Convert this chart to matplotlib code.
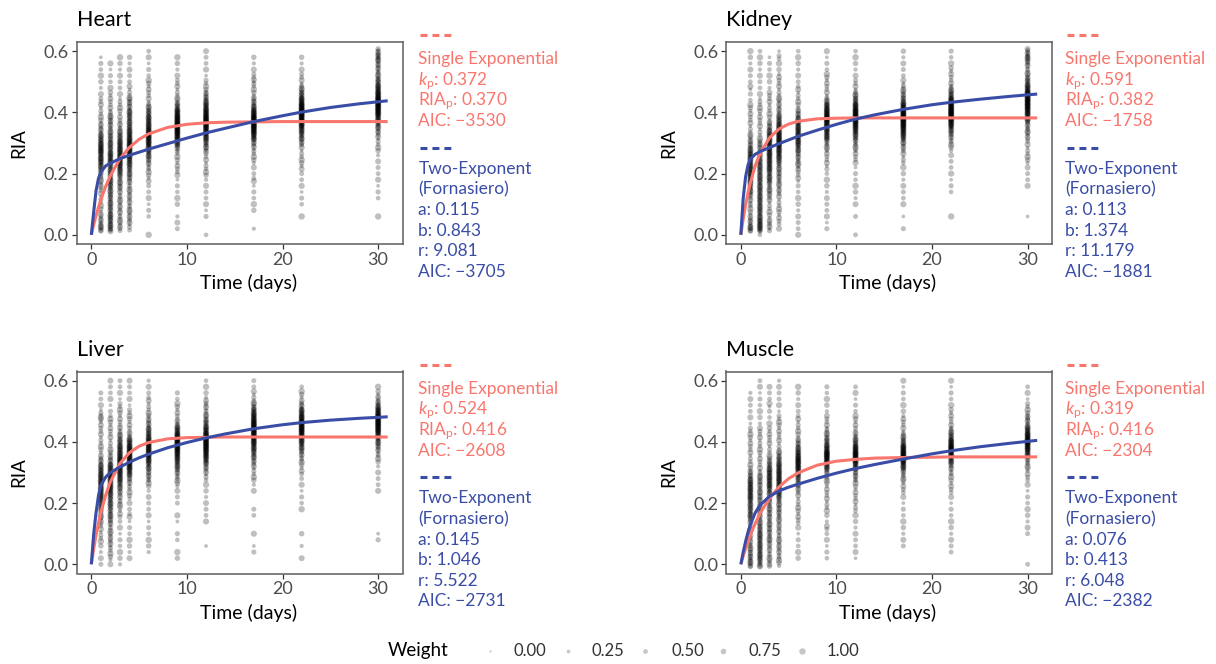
import matplotlib
matplotlib.use('Agg')
import matplotlib.pyplot as plt
from matplotlib.lines import Line2D

plt.rcParams['font.family'] = ['Lato', 'DejaVu Sans']
plt.rcParams['mathtext.fontset'] = 'custom'
plt.rcParams['mathtext.rm'] = 'Lato'
plt.rcParams['mathtext.it'] = 'Lato:italic'
plt.rcParams['mathtext.bf'] = 'Lato:bold'
plt.rcParams['lines.scale_dashes'] = False

# ---------------- data ----------------
PANEL_NAMES = ['Heart', 'Kidney', 'Liver', 'Muscle']
TIMES = [1, 2, 3, 4, 6, 9, 12, 17, 22, 30]
BIN_WIDTH = 0.02   # RIA bins 0.00, 0.02, ..., 0.60 (counts of observations per bin)

HEART_COUNTS = [
    [0,5,4,3,2,2,2,2,3,3, 4,6,8,8,10,8,6,4,3,2, 2,2,2,1,1,1,1,1,1,1, 0],
    [0,6,6,6,5,5,5,5,6,6, 6,6,8,8,6,6,5,4,4,4, 3,2,2,2,1,1,1,1,1,0, 0],
    [0,3,3,3,3,3,3,3,4,4, 6,8,9,9,9,8,6,4,3,2, 2,2,2,1,1,1,1,1,1,1, 0],
    [0,2,3,3,3,3,3,3,3,4, 5,6,8,9,11,11,9,8,6,6, 6,4,4,2,2,1,1,1,1,1, 0],
    [1,0,0,1,1,1,1,1,1,2, 2,3,4,6,8,11,12,11,9,8, 6,4,2,2,2,2,1,1,1,1, 1],
    [0,1,1,1,0,1,1,1,1,1, 2,2,2,2,4,8,12,15,16,14, 11,6,3,2,2,2,1,1,1,1, 0],
    [1,0,0,1,1,1,1,1,1,1, 2,2,2,2,4,6,9,12,15,15, 12,9,6,4,2,2,1,1,1,1, 1],
    [0,1,0,0,1,1,1,1,1,2, 1,1,2,2,3,4,9,14,18,16, 12,6,4,2,2,3,2,1,1,1, 0],
    [0,0,0,1,0,1,1,1,1,1, 1,2,2,2,2,4,6,8,12,15, 18,15,10,6,4,2,2,1,1,1, 0],
    [0,0,0,1,0,0,1,1,1,1, 1,1,1,1,2,2,3,4,6,9, 14,16,16,12,9,6,4,4,4,6, 4],
]
KIDNEY_COUNTS = [
    [0,6,4,3,2,3,3,5,6,8, 8,8,8,8,6,4,3,2,2,2, 2,2,1,1,2,1,1,1,1,1, 1],
    [1,8,8,6,6,6,6,6,6,6, 6,6,6,4,4,4,2,2,2,2, 2,2,2,1,1,1,1,1,1,1, 1],
    [0,3,3,2,2,2,3,4,4,6, 6,8,8,9,9,9,8,6,4,2, 2,2,2,2,1,1,1,1,1,1, 0],
    [0,1,2,2,2,2,2,3,3,4, 4,4,6,8,9,11,11,9,8,6, 4,3,3,2,2,2,2,1,1,2, 1],
    [1,1,1,1,1,1,1,1,1,2, 2,3,4,4,6,8,9,9,8,6, 4,2,2,2,2,1,1,1,1,1, 1],
    [0,1,1,1,1,1,1,1,1,1, 1,2,2,2,3,4,8,9,12,14, 12,9,4,2,2,2,2,1,1,1, 1],
    [1,0,0,1,0,1,1,1,1,1, 1,1,2,2,3,4,6,9,12,15, 15,11,6,4,2,2,1,1,1,1, 1],
    [0,1,0,1,0,1,1,1,1,1, 1,1,2,2,3,4,8,11,15,18, 15,11,6,4,3,2,1,1,1,1, 1],
    [0,0,0,1,0,0,0,1,1,1, 1,1,1,1,2,3,4,6,11,15, 18,16,11,6,4,2,2,2,1,1, 1],
    [0,0,0,1,0,0,0,0,1,1, 1,1,2,2,2,2,3,4,4,8, 12,15,16,14,9,6,4,3,4,6, 4],
]
LIVER_COUNTS = [
    [1,1,1,1,2,2,2,3,4,5, 6,8,9,9,9,8,6,4,2,2, 2,2,2,2,3,2,1,1,1,0, 0],
    [1,2,2,3,3,3,3,4,5,5, 6,6,8,9,9,9,8,4,3,2, 2,2,2,2,2,1,1,1,1,1, 1],
    [1,1,1,1,1,1,1,1,2,2, 3,3,4,6,8,9,11,11,9,8, 6,4,3,2,2,2,2,1,1,1, 1],
    [0,1,1,1,1,1,1,1,2,1, 1,2,2,3,4,8,11,12,12,11, 8,4,2,2,2,2,1,1,1,1, 1],
    [0,0,1,1,1,1,1,1,1,1, 1,1,1,2,4,4,6,9,12,12, 11,8,6,4,3,2,2,2,1,1, 1],
    [0,1,1,0,1,1,0,1,1,0, 1,1,1,2,3,4,6,8,11,14, 15,12,8,4,2,2,2,1,1,0, 0],
    [0,0,0,1,0,0,0,1,1,1, 1,1,1,1,2,3,4,8,11,14, 15,14,9,6,4,3,3,2,1,1, 1],
    [0,0,1,1,0,1,0,0,1,1, 0,0,1,1,2,2,3,4,6,8, 11,14,15,14,11,8,4,2,2,1, 1],
    [0,1,0,1,0,1,0,0,0,1, 1,1,1,1,1,2,2,3,4,6, 9,12,15,15,11,8,4,2,2,1, 0],
    [0,0,0,0,1,1,0,0,0,0, 0,0,1,1,1,1,1,2,3,4, 6,9,14,16,15,11,6,3,2,1, 0],
]
MUSCLE_COUNTS = [
    [5,5,4,4,3,3,3,4,6,6, 6,8,8,8,6,4,2,2,2,2, 2,2,2,1,1,1,1,1,1,0, 0],
    [5,6,6,6,6,6,5,4,4,4, 4,4,4,4,4,3,2,2,2,2, 2,2,2,1,1,1,1,1,1,1, 1],
    [3,3,3,3,4,4,4,4,4,4, 4,4,6,8,8,8,6,4,2,2, 2,2,2,1,1,1,2,1,1,1, 0],
    [2,3,3,3,3,3,3,3,4,4, 4,6,8,8,9,9,8,6,4,2, 2,2,2,2,2,1,1,1,1,1, 1],
    [0,1,1,1,1,1,1,2,2,2, 2,2,3,4,6,8,11,12,9,6, 4,2,2,2,2,1,1,1,1,1, 0],
    [0,1,1,1,1,1,2,1,1,2, 2,2,2,2,3,4,8,12,15,9, 6,4,3,2,2,1,1,1,1,1, 0],
    [0,1,1,1,1,1,1,1,1,2, 2,2,2,2,4,4,8,12,15,11, 6,4,2,2,2,1,1,1,1,1, 0],
    [0,0,0,1,1,1,1,1,1,1, 1,1,2,2,3,4,8,12,15,12, 6,4,2,2,2,1,1,1,1,1, 1],
    [0,0,1,1,1,1,1,1,1,1, 1,1,2,2,2,3,4,8,12,15, 11,6,4,2,2,2,1,1,1,1, 1],
    [1,0,0,0,0,1,1,1,1,1, 1,1,1,1,2,2,3,4,8,12, 15,12,8,4,4,2,2,1,1,1, 0],
]
WEIGHT_LEVELS = [0.55, 0.85, 0.35, 0.7, 1.0, 0.45, 0.6, 0.25, 0.9, 0.5]

# fitted curves
CURVE_T = [0, 0.25, 0.5, 0.75, 1, 1.5, 2, 3, 4, 5, 6, 8, 10, 12, 14, 17, 20, 22, 25, 28, 31]
HEART_SINGLE  = [0, 0.033, 0.063, 0.090, 0.115, 0.158, 0.194, 0.249, 0.286, 0.312, 0.330, 0.351, 0.361, 0.366, 0.368, 0.369, 0.370, 0.370, 0.370, 0.370, 0.370]
HEART_TWO     = [0, 0.075, 0.145, 0.185, 0.205, 0.225, 0.234, 0.249, 0.260, 0.270, 0.280, 0.298, 0.316, 0.333, 0.348, 0.370, 0.389, 0.401, 0.416, 0.428, 0.438]
KIDNEY_SINGLE = [0, 0.052, 0.098, 0.137, 0.170, 0.225, 0.265, 0.317, 0.346, 0.362, 0.371, 0.379, 0.381, 0.382, 0.382, 0.382, 0.382, 0.382, 0.382, 0.382, 0.382]
KIDNEY_TWO    = [0, 0.120, 0.190, 0.228, 0.248, 0.263, 0.272, 0.285, 0.298, 0.310, 0.322, 0.342, 0.361, 0.378, 0.392, 0.410, 0.425, 0.433, 0.443, 0.452, 0.460]
LIVER_SINGLE  = [0, 0.051, 0.096, 0.135, 0.170, 0.226, 0.270, 0.330, 0.365, 0.386, 0.398, 0.410, 0.414, 0.415, 0.416, 0.416, 0.416, 0.416, 0.416, 0.416, 0.416]
LIVER_TWO     = [0, 0.100, 0.170, 0.225, 0.258, 0.285, 0.300, 0.318, 0.334, 0.348, 0.360, 0.381, 0.398, 0.413, 0.426, 0.443, 0.456, 0.463, 0.471, 0.477, 0.482]
MUSCLE_SINGLE = [0, 0.027, 0.052, 0.075, 0.096, 0.133, 0.166, 0.216, 0.253, 0.280, 0.299, 0.324, 0.337, 0.343, 0.347, 0.349, 0.350, 0.351, 0.351, 0.351, 0.351]
MUSCLE_TWO    = [0, 0.040, 0.075, 0.105, 0.130, 0.168, 0.193, 0.222, 0.240, 0.252, 0.262, 0.281, 0.298, 0.313, 0.326, 0.344, 0.361, 0.371, 0.384, 0.395, 0.405]

KP   = ['0.372', '0.591', '0.524', '0.319']
RIAP = ['0.370', '0.382', '0.416', '0.416']
AIC1 = ['\u22123530', '\u22121758', '\u22122608', '\u22122304']
PAR_A = ['0.115', '0.113', '0.145', '0.076']
PAR_B = ['0.843', '1.374', '1.046', '0.413']
PAR_R = ['9.081', '11.179', '5.522', '6.048']
AIC2 = ['\u22123705', '\u22121881', '\u22122731', '\u22122382']

LEGEND_WEIGHTS = [0.0, 0.25, 0.5, 0.75, 1.0]
LEGEND_LABELS = ['0.00', '0.25', '0.50', '0.75', '1.00']

# ---------------- style ----------------
RED = '#F8766D'
BLUE = '#3A4DA6'
W, H = 1216, 664

def fx(x):
    return x / W

def fy(y):
    return 1 - y / H

def size_of(w):
    return 2.5 + 19.0 * w

fig = plt.figure(figsize=(W / 100, H / 100), dpi=100)

COL_LEFT = [76.5, 726.0]
AX_W = 326.0
ROW_TOP = [42.0, 371.5]
AX_H = 202.0
TEXT_X = [418.3, 1065.0]
ROW_SHIFT = 329.5

counts_all = [HEART_COUNTS, KIDNEY_COUNTS, LIVER_COUNTS, MUSCLE_COUNTS]
single_all = [HEART_SINGLE, KIDNEY_SINGLE, LIVER_SINGLE, MUSCLE_SINGLE]
two_all = [HEART_TWO, KIDNEY_TWO, LIVER_TWO, MUSCLE_TWO]

for p, name in enumerate(PANEL_NAMES):
    col, row = p % 2, p // 2
    left, top = COL_LEFT[col], ROW_TOP[row]
    dy = row * ROW_SHIFT
    ax = fig.add_axes([fx(left), fy(top + AX_H), AX_W / W, AX_H / H])

    xs, ys, ws = [], [], []
    k = 0
    for t, counts in zip(TIMES, counts_all[p]):
        for i, c in enumerate(counts):
            for j in range(c):
                xs.append(t)
                ys.append(i * BIN_WIDTH + ((j + 0.5) / c - 0.5) * BIN_WIDTH)
                ws.append(WEIGHT_LEVELS[k % len(WEIGHT_LEVELS)])
                k += 1
    ax.scatter(xs, ys, s=[size_of(w) for w in ws], c='black', alpha=0.25,
               linewidths=0, zorder=2)
    ax.plot(CURVE_T, single_all[p], color=RED, lw=2.2, zorder=3, solid_capstyle='butt')
    ax.plot(CURVE_T, two_all[p], color=BLUE, lw=2.2, zorder=4, solid_capstyle='butt')

    ax.set_xlim(-1.55, 32.55)
    ax.set_ylim(-0.03, 0.63)
    ax.set_xticks([0, 10, 20, 30])
    ax.set_yticks([0, 0.2, 0.4, 0.6])
    ax.set_yticklabels(['0.0', '0.2', '0.4', '0.6'])
    for s in ax.spines.values():
        s.set_color('#5e5e5e')
        s.set_linewidth(1.1)
    ax.tick_params(length=3.6, width=0.9, color='#333333', labelsize=13,
                   labelcolor='#4d4d4d', pad=2)

    # titles and axis labels
    fig.text(fx(left + 0.5), fy(26 + dy), name, fontsize=15.5, ha='left', va='baseline')
    fig.text(fx(left - 57.5), fy(top + AX_H / 2), 'RIA', fontsize=13.5,
             rotation=90, ha='center', va='center')
    xl_center = left + AX_W / 2 + (9.5 if col == 0 else -1.5)
    fig.text(fx(xl_center), fy(top + 241), 'Time (days)', fontsize=14,
             ha='center', va='center')

    # annotation block
    tx = TEXT_X[col]
    fs = 12.5
    fig.add_artist(Line2D([fx(tx + 2), fx(tx + 33)], [fy(35 + dy), fy(35 + dy)],
                          transform=fig.transFigure, color=RED, lw=2.2,
                          dashes=(5, 3.6)))
    red_lines = ['Single Exponential',
                 r'$\mathit{k}_{\mathrm{p}}$: ' + KP[p],
                 r'$\mathrm{RIA}_{\mathrm{p}}$: ' + RIAP[p],
                 'AIC: ' + AIC1[p]]
    for n, s in enumerate(red_lines):
        fig.text(fx(tx), fy(64.3 + 20.6 * n + dy), s, color=RED, fontsize=fs,
                 ha='left', va='baseline')
    fig.add_artist(Line2D([fx(tx + 2), fx(tx + 33)], [fy(147.7 + dy), fy(147.7 + dy)],
                          transform=fig.transFigure, color=BLUE, lw=2.2,
                          dashes=(5, 3.6)))
    blue_lines = ['Two-Exponent', '(Fornasiero)', 'a: ' + PAR_A[p],
                  'b: ' + PAR_B[p], 'r: ' + PAR_R[p], 'AIC: ' + AIC2[p]]
    for n, s in enumerate(blue_lines):
        fig.text(fx(tx), fy(174 + 20.6 * n + dy), s, color=BLUE, fontsize=fs,
                 ha='left', va='baseline')

# ---------------- size legend ----------------
lax = fig.add_axes([0, 0, 1, 1])
lax.set_xlim(0, W)
lax.set_ylim(H, 0)
lax.axis('off')
fig.text(fx(388), fy(650.7), 'Weight', fontsize=13.5, ha='left', va='center')
dot_x = [490, 567.7, 645, 723, 801.7]
lab_x = [513, 592, 671, 748, 827]
for w, lab, dx, lx in zip(LEGEND_WEIGHTS, LEGEND_LABELS, dot_x, lab_x):
    lax.scatter([dx], [650.7], s=size_of(w), c='black', alpha=0.22, linewidths=0)
    fig.text(fx(lx), fy(650.7), lab, fontsize=12, color='#333333',
             ha='left', va='center')

fig.savefig('out.png', dpi=100)
